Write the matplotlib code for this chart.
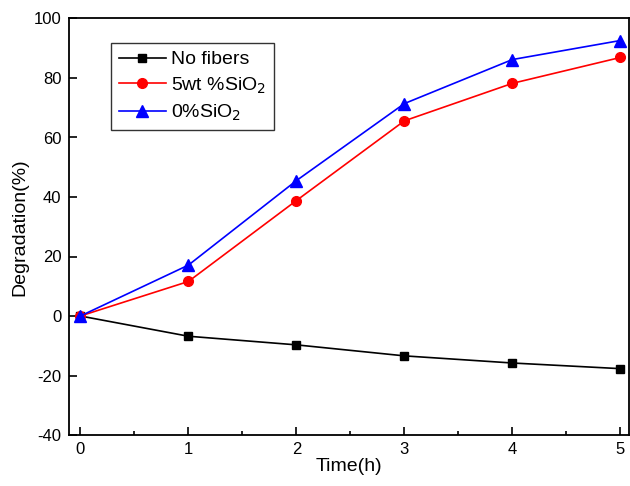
from matplotlib import pyplot as plt
import numpy as np

plt.rcParams['font.family'] = ['Liberation Sans', 'DejaVu Sans']
plt.rcParams['axes.unicode_minus'] = False

time_h = [0, 1, 2, 3, 4, 5]
no_fibers = [0, -6.8, -9.7, -13.4, -15.8, -17.7]
sio2_5wt = [0, 11.6, 38.8, 65.6, 78.2, 86.9]
sio2_0 = [0, 17.1, 45.5, 71.4, 86.2, 92.6]

fig = plt.figure(figsize=(6.3, 4.86), dpi=100)
ax = fig.add_axes([68.5 / 630, 1 - 435 / 486, (629 - 68.5) / 630, (435 - 18.5) / 486])

ax.plot(time_h, no_fibers, color='black', marker='s', markersize=6, lw=1.2, label='No fibers')
ax.plot(time_h, sio2_5wt, color='red', marker='o', markersize=7, lw=1.2, label='5wt %SiO$_2$')
ax.plot(time_h, sio2_0, color='blue', marker='^', markersize=8, lw=1.2, label='0%SiO$_2$')

ax.set_xlim(-0.11, 5.08)
ax.set_ylim(-40, 100)
ax.set_xticks(np.arange(0, 6, 1))
ax.set_xticks(np.arange(0.5, 5, 1), minor=True)
ax.set_yticks(np.arange(-40, 101, 20))
ax.tick_params(direction='in', length=6, width=1.2, labelsize=12, top=False, right=False, pad=5)
ax.tick_params(which='minor', direction='in', length=3, width=1.2)
for s in ax.spines.values():
    s.set_linewidth(1.3)

ax.set_xlabel('Time(h)', fontsize=14, labelpad=1)
ax.set_ylabel('Degradation(%)', fontsize=14, labelpad=4)

leg = ax.legend(loc='upper left', bbox_to_anchor=(0.076, 0.941), borderaxespad=0, fontsize=14,
                frameon=True, fancybox=False, edgecolor='black', handlelength=2.4, borderpad=0.4,
                labelspacing=0.35, handletextpad=0.3)
leg.get_frame().set_linewidth(1.0)

plt.savefig('out.png', dpi=100)
